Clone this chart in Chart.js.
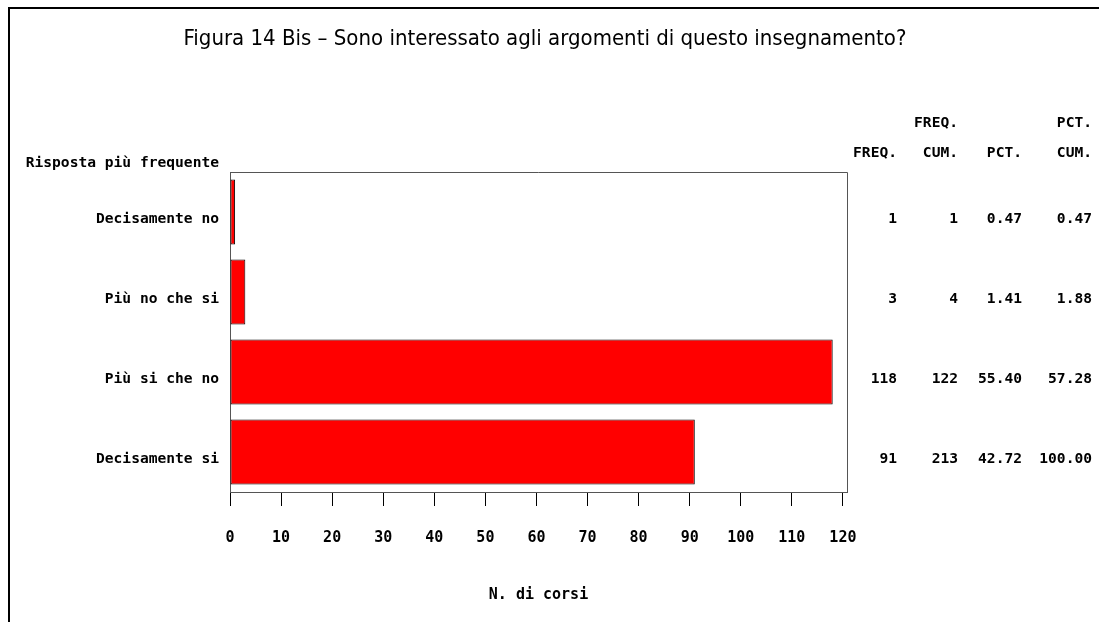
<!DOCTYPE html>
<html>
<head>
<meta charset="utf-8">
<script src="https://cdn.jsdelivr.net/npm/chart.js@4"></script>
<style>
  html, body { margin: 0; padding: 0; background: #fff; }
  #wrap { width: 1099px; height: 622px; position: relative; }
</style>
</head>
<body>
<div id="wrap"><canvas id="chart" width="1099" height="622"></canvas></div>
<script>
const categories = ["Decisamente no", "Più no che si", "Più si che no", "Decisamente si"];
const freq = [1, 3, 118, 91];
const freqCum = [1, 4, 122, 213];
const pct = ["0.47", "1.41", "55.40", "42.72"];
const pctCum = ["0.47", "1.88", "57.28", "100.00"];
const tableHeads = [["", "FREQ."], ["FREQ.", "CUM."], ["", "PCT."], ["PCT.", "CUM."]];
const tableCols = [freq, freqCum, pct, pctCum];

const titleText = "Figura 14 Bis \u2013 Sono interessato agli argomenti di questo insegnamento?";
const monoFont = '"DejaVu Sans Mono", "Liberation Mono", monospace';
const narrowFont = '"Liberation Sans Narrow", "DejaVu Sans Condensed", "Arial Narrow", sans-serif';

// columns of the table on the right (right edges)
const colRight = [897, 958, 1022, 1092];

const decorations = {
    id: "decorations",
    afterDraw(chart) {
        const ctx = chart.ctx;
        const area = chart.chartArea;
        const yScale = chart.scales.y;
        ctx.save();

        // page frame (top and left)
        ctx.fillStyle = "#000";
        ctx.fillRect(8, 7, chart.width - 8, 2);
        ctx.fillRect(8, 7, 2, chart.height - 7);

        // plot frame: top and right sides
        ctx.strokeStyle = "#555";
        ctx.lineWidth = 1;
        ctx.beginPath();
        ctx.moveTo(area.left, area.top + 0.5);
        ctx.lineTo(area.right + 0.5, area.top + 0.5);
        ctx.lineTo(area.right + 0.5, area.bottom);
        ctx.stroke();

        // title
        ctx.fillStyle = "#000";
        ctx.font = "22px " + narrowFont;
        ctx.textAlign = "center";
        ctx.textBaseline = "middle";
        ctx.fillText(titleText, 545, 39);

        // axis label for categories
        ctx.font = "bold 14.6px " + monoFont;
        ctx.textAlign = "right";
        ctx.fillText("Risposta più frequente", area.left - 11, area.top - 9);

        // table headers and values
        tableCols.forEach((col, c) => {
            ctx.fillText(tableHeads[c][0], colRight[c], area.top - 49);
            ctx.fillText(tableHeads[c][1], colRight[c], area.top - 19);
            col.forEach((v, i) => {
                ctx.fillText(String(v), colRight[c], yScale.getPixelForValue(i) + 7);
            });
        });
        ctx.restore();
    }
};

new Chart(document.getElementById("chart"), {
    type: "bar",
    data: {
        labels: categories,
        datasets: [{
            data: freq,
            backgroundColor: "#ff0000",
            borderColor: "#000",
            borderWidth: 1,
            borderSkipped: false,
            categoryPercentage: 1,
            barPercentage: 0.8125
        }]
    },
    options: {
        indexAxis: "y",
        responsive: false,
        animation: false,
        layout: { padding: { top: 172, right: 252, bottom: 0, left: 0 } },
        plugins: {
            legend: { display: false },
            tooltip: { enabled: false }
        },
        scales: {
            x: {
                type: "linear",
                position: "bottom",
                min: 0,
                max: 120.8,
                afterBuildTicks: s => { s.ticks = s.ticks.filter(t => t.value % 10 === 0); },
                afterFit: s => { s.height = 130; },
                ticks: {
                    stepSize: 10,
                    includeBounds: false,
                    color: "#000",
                    padding: 23,
                    maxRotation: 0,
                    autoSkip: false,
                    font: { family: monoFont, size: 15, weight: "bold" }
                },
                grid: {
                    drawOnChartArea: false,
                    drawTicks: true,
                    tickLength: 14,
                    tickColor: "#000",
                    lineWidth: 1
                },
                border: { display: true, color: "#555", width: 1 },
                title: {
                    display: true,
                    text: "N. di corsi",
                    color: "#000",
                    font: { family: monoFont, size: 15, weight: "bold" },
                    padding: { top: 0, bottom: 18 }
                }
            },
            y: {
                type: "category",
                afterFit: s => { s.width = 230; },
                ticks: {
                    color: "#000",
                    padding: 11,
                    labelOffset: 7,
                    font: { family: monoFont, size: 14.6, weight: "bold" }
                },
                grid: { display: false, drawTicks: false, tickLength: 0 },
                border: { display: true, color: "#555", width: 1 }
            }
        }
    },
    plugins: [decorations]
});
</script>
</body>
</html>
